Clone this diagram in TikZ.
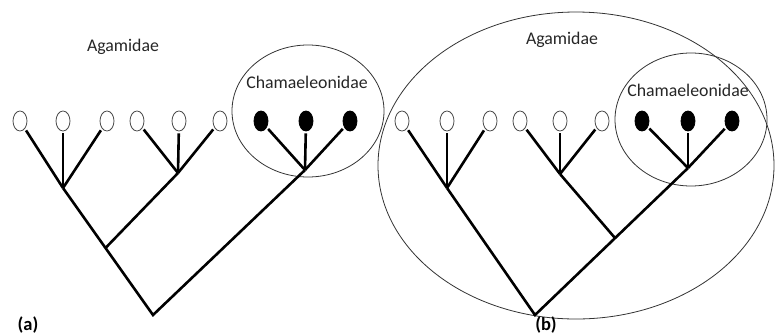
\documentclass[tikz,border=0pt]{standalone}
\usepackage{fontspec}
\setmainfont{Carlito}
\usetikzlibrary{shapes.geometric}
\begin{document}
\begin{tikzpicture}[x=1pt,y=-1pt,
  openleaf/.style={ellipse,draw=black!70,line width=0.8pt,fill=white,minimum width=14pt,minimum height=20pt,inner sep=0pt},
  fullleaf/.style={ellipse,draw=black,fill=black,line width=0.8pt,minimum width=14pt,minimum height=20pt,inner sep=0pt},
  branch/.style={line width=2.6pt,black,shorten <=2pt},
  trunk/.style={line width=2.6pt,black,line join=miter},
  clade/.style={draw=black!80,line width=0.8pt},
  label/.style={font=\fontsize{17.8}{20}\selectfont,text=black!85,inner sep=0pt},
  panel/.style={font=\fontsize{18.5}{20}\selectfont\bfseries,text=black,inner sep=0pt}]
\useasboundingbox (0,0) rectangle (775,335);

% ---------- panel (a) ----------
\draw[clade] (308,111) ellipse [x radius=76, y radius=66];
\node[label] (agA) at (123,47) {Agamidae};
\node[label] (chA) at (307,82) {Chamaeleonidae};
\node[panel] (pa) at (28,325) {(a)};

\node[openleaf] (a1) at (20,121) {};
\node[openleaf] (a2) at (63,121) {};
\node[openleaf] (a3) at (107,121) {};
\node[openleaf] (a4) at (137,121) {};
\node[openleaf] (a5) at (179,121) {};
\node[openleaf] (a6) at (220,121) {};
\node[fullleaf] (a7) at (261,121) {};
\node[fullleaf] (a8) at (306,121) {};
\node[fullleaf] (a9) at (350,121) {};

\coordinate (an1) at (63,188);
\coordinate (an2) at (178,173);
\coordinate (an3) at (305,170);
\coordinate (am) at (105.5,248);
\coordinate (aroot) at (153,315);

\draw[branch] (a1) -- (an1);
\draw[branch] (a2) -- (an1);
\draw[branch] (a3) -- (an1);
\draw[branch] (a4) -- (an2);
\draw[branch] (a5) -- (an2);
\draw[branch] (a6) -- (an2);
\draw[branch] (a7) -- (an3);
\draw[branch] (a8) -- (an3);
\draw[branch] (a9) -- (an3);
\draw[trunk] (an2) -- (am);
\draw[trunk] (an1) -- (aroot) -- (an3);

% ---------- panel (b) ----------
\draw[clade] (576,165.5) ellipse [x radius=198, y radius=153.5];
\draw[clade] (691,119.5) ellipse [x radius=76, y radius=66.5];
\node[label] (agB) at (562,40) {Agamidae};
\node[label] (chB) at (688,90) {Chamaeleonidae};
\node[panel] (pb) at (546,325) {(b)};

\node[openleaf] (b1) at (402,121) {};
\node[openleaf] (b2) at (447,121) {};
\node[openleaf] (b3) at (490,121) {};
\node[openleaf] (b4) at (520,121) {};
\node[openleaf] (b5) at (560,121) {};
\node[openleaf] (b6) at (602,121) {};
\node[fullleaf] (b7) at (642,121) {};
\node[fullleaf] (b8) at (688,121) {};
\node[fullleaf] (b9) at (732,121) {};

\coordinate (bn1) at (447,188);
\coordinate (bn2) at (560,174);
\coordinate (bn3) at (688,168);
\coordinate (bq) at (615,238);
\coordinate (broot) at (535,315);

\draw[branch] (b1) -- (bn1);
\draw[branch] (b2) -- (bn1);
\draw[branch] (b3) -- (bn1);
\draw[branch] (b4) -- (bn2);
\draw[branch] (b5) -- (bn2);
\draw[branch] (b6) -- (bn2);
\draw[branch] (b7) -- (bn3);
\draw[branch] (b8) -- (bn3);
\draw[branch] (b9) -- (bn3);
\draw[trunk] (bn2) -- (bq);
\draw[trunk] (bn1) -- (broot) -- (bn3);
\end{tikzpicture}
\end{document}
